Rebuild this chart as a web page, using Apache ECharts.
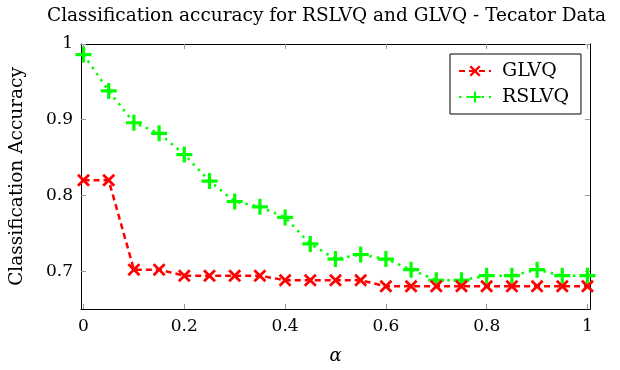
<!DOCTYPE html>
<html>
<head>
<meta charset="utf-8">
<script src="https://cdn.jsdelivr.net/npm/echarts@6/dist/echarts.min.js"></script>
<style>
  html, body { margin: 0; padding: 0; background: #fff; }
  #chart { width: 620px; height: 370px; }
</style>
</head>
<body>
<div id="chart"></div>
<script>
// alpha values on the x axis
const alphas = [0, 0.05, 0.1, 0.15, 0.2, 0.25, 0.3, 0.35, 0.4, 0.45, 0.5,
  0.55, 0.6, 0.65, 0.7, 0.75, 0.8, 0.85, 0.9, 0.95, 1]
// classification accuracy per alpha
const glvq = [0.820, 0.820, 0.702, 0.702, 0.694, 0.694, 0.694, 0.694, 0.688, 0.688, 0.688,
  0.688, 0.680, 0.680, 0.680, 0.680, 0.680, 0.680, 0.680, 0.680, 0.680]
const rslvq = [0.986, 0.938, 0.896, 0.882, 0.854, 0.819, 0.792, 0.785, 0.771, 0.736, 0.716,
  0.722, 0.716, 0.702, 0.688, 0.688, 0.694, 0.694, 0.702, 0.694, 0.694]
// tick labels
const xTicks = [0, 0.2, 0.4, 0.6, 0.8, 1]
const yTicks = [0.7, 0.8, 0.9, 1]

const font = 'DejaVu Serif'
const crossPath = 'path://M0,1.5 L1.5,0 L5,3.5 L8.5,0 L10,1.5 L6.5,5 L10,8.5 L8.5,10 L5,6.5 L1.5,10 L0,8.5 L3.5,5 Z'
const plusPath = 'path://M4,0 L6,0 L6,4 L10,4 L10,6 L6,6 L6,10 L4,10 L4,6 L0,6 L0,4 L4,4 Z'

const fmt = v => String(Math.round(v * 10) / 10)

const chart = echarts.init(document.getElementById('chart'), null, { renderer: 'canvas' })

const option = {
  animation: false,
  backgroundColor: '#fff',
  title: {
    text: 'Classification accuracy for RSLVQ and GLVQ - Tecator Data',
    left: 42,
    top: 2,
    textStyle: { fontFamily: font, fontWeight: 'normal', fontSize: 18.5, color: '#000' }
  },
  legend: {
    orient: 'vertical',
    left: 450,
    top: 54,
    padding: [7, 12, 7, 8],
    itemGap: 6,
    itemWidth: 32,
    itemHeight: 14,
    borderColor: '#000',
    borderWidth: 1,
    backgroundColor: '#fff',
    textStyle: { fontFamily: font, fontSize: 19, lineHeight: 20, color: '#000', padding: [0, 0, 0, 6] },
    data: ['GLVQ', 'RSLVQ']
  },
  grid: { left: 76.5, right: 30, top: 44, bottom: 51, containLabel: false },
  xAxis: [
    {
      type: 'value',
      min: -0.005,
      max: 1.005,
      name: 'α',
      nameLocation: 'middle',
      nameGap: 38,
      nameTextStyle: { fontFamily: font, fontStyle: 'italic', fontSize: 18, color: '#000' },
      axisLine: { show: true, onZero: false, lineStyle: { color: '#000', width: 1 } },
      axisTick: { inside: true, length: 5, customValues: xTicks, lineStyle: { color: '#999' } },
      axisLabel: { customValues: xTicks, formatter: fmt, margin: 9, fontFamily: font, fontSize: 17, color: '#000' },
      splitLine: { show: false }
    },
    {
      type: 'value',
      position: 'top',
      min: -0.005,
      max: 1.005,
      axisLine: { show: true, onZero: false, lineStyle: { color: '#000', width: 1 } },
      axisTick: { inside: true, length: 5, customValues: xTicks, lineStyle: { color: '#999' } },
      axisLabel: { show: false },
      splitLine: { show: false }
    }
  ],
  yAxis: [
    {
      type: 'value',
      min: 0.65,
      max: 1.0,
      name: 'Classification Accuracy',
      nameLocation: 'middle',
      nameGap: 54,
      nameTextStyle: { fontFamily: font, fontSize: 18.5, color: '#000' },
      axisLine: { show: true, onZero: false, lineStyle: { color: '#000', width: 1 } },
      axisTick: { inside: true, length: 5, customValues: yTicks, lineStyle: { color: '#999' } },
      axisLabel: { customValues: yTicks, formatter: fmt, margin: 8, fontFamily: font, fontSize: 17, color: '#000' },
      splitLine: { show: false }
    },
    {
      type: 'value',
      position: 'right',
      min: 0.65,
      max: 1.0,
      axisLine: { show: true, onZero: false, lineStyle: { color: '#000', width: 1 } },
      axisTick: { inside: true, length: 5, customValues: yTicks, lineStyle: { color: '#999' } },
      axisLabel: { show: false },
      splitLine: { show: false }
    }
  ],
  series: [
    {
      name: 'GLVQ',
      type: 'line',
      data: alphas.map((a, i) => [a, glvq[i]]),
      symbol: crossPath,
      symbolSize: 13,
      showAllSymbol: true,
      itemStyle: { color: '#ff0000' },
      lineStyle: { color: '#ff0000', width: 2.5, type: [6, 4] },
      z: 3
    },
    {
      name: 'RSLVQ',
      type: 'line',
      data: alphas.map((a, i) => [a, rslvq[i]]),
      symbol: plusPath,
      symbolSize: 16,
      showAllSymbol: true,
      itemStyle: { color: '#00ff00' },
      lineStyle: { color: '#00ff00', width: 2.5, type: [2.5, 5] },
      z: 2
    }
  ]
}

chart.setOption(option)
</script>
</body>
</html>
